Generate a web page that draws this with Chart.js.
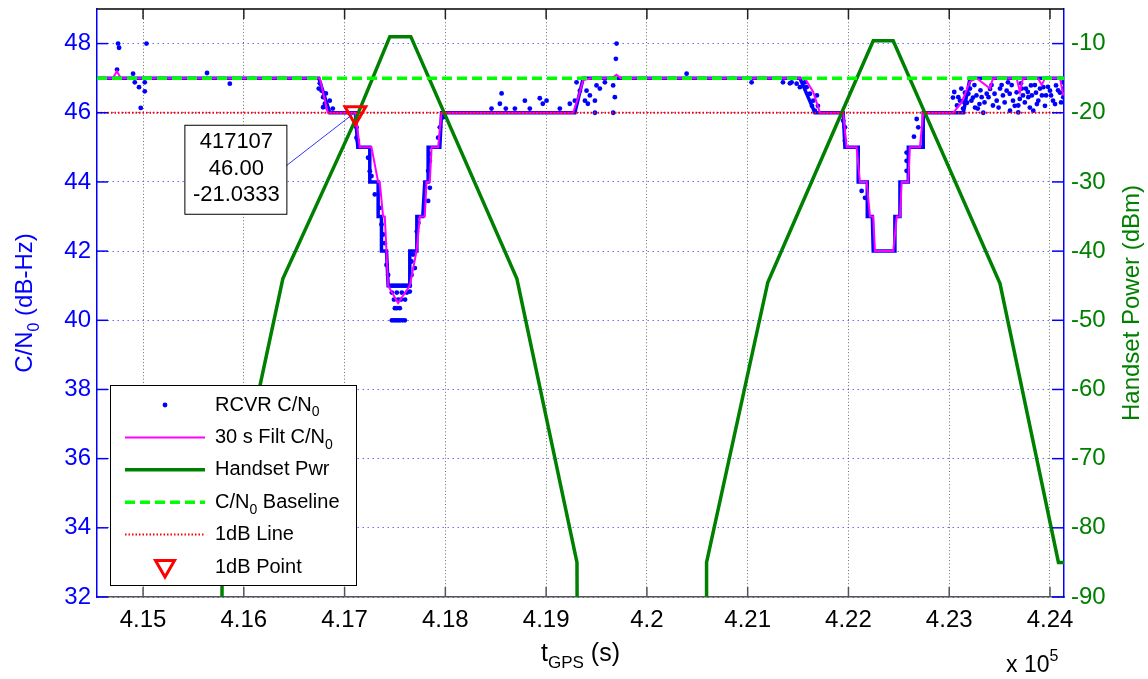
<!DOCTYPE html>
<html>
<head>
<meta charset="utf-8">
<script src="https://cdn.jsdelivr.net/npm/chart.js@4.4.0/dist/chart.umd.min.js"></script>
<style>
  html, body { margin: 0; padding: 0; background: #fff; }
</style>
</head>
<body>
<canvas id="cnChart" width="1148" height="679"></canvas>
<script>
const FONT = "'Liberation Sans', Arial, sans-serif";

// axis limits and ticks
const tMin = 414543, tMax = 424139;
const xTicks = [415000, 416000, 417000, 418000, 419000, 420000, 421000, 422000, 423000, 424000];
const cnTicks = [32, 34, 36, 38, 40, 42, 44, 46, 48];
const pwrTicks = [-90, -80, -70, -60, -50, -40, -30, -20, -10];

// receiver C/N0 - plateaus where the samples sit on one level
const plateauStart = [414543, 416853, 417131, 417250, 417333, 417366, 417432, 417647, 417717, 417796, 417829, 417962,
  419368, 421667, 421965, 422097, 422187, 422246, 422461, 422511, 422594, 422742, 423206];
const plateauEnd = [416744, 417107, 417250, 417333, 417366, 417416, 417647, 417714, 417776, 417829, 417945, 419285,
  421518, 421948, 422097, 422187, 422237, 422461, 422511, 422594, 422742, 423140, 424139];
const plateauC = [47, 46, 45, 44, 43, 42, 41, 42, 43, 44, 45, 46,
  47, 46, 45, 44, 43, 42, 43, 44, 45, 46, 47];

// receiver C/N0 - scattered samples off the plateaus
const rcvrT = [414752, 414762, 415034, 414742, 414901, 414918, 414960, 415017, 415017, 414977, 415635, 415861,
  416754, 416771, 416787, 416804, 416787, 416833, 416853, 416883, 416744, 416814,
  417118, 417118, 417131, 417233, 417250, 417267, 417300, 417349, 417366, 417382, 417399, 417416, 417432,
  417449, 417499, 417548, 417598, 417647, 417474, 417524, 417574, 417623,
  417469, 417518, 417568, 417618, 417490, 417530, 417560, 417600, 417499, 417518, 417548,
  417469, 417490, 417510, 417530, 417550, 417575, 417598,
  417647, 417664, 417664, 417680, 417697, 417717, 417732, 417829, 417846, 417829, 417846, 417846, 417928, 417945, 417978,
  418458, 418541, 418558, 418600, 418690, 418789, 418838, 418937, 418967, 419004, 419136, 419235, 419285, 419302,
  419335, 419385, 419401, 419414, 419434, 419484, 419484, 419500, 419533, 419583, 419665, 419665, 419682, 419692, 419699,
  420394, 421039,
  421350, 421419, 421486, 421518, 421585, 421568, 421618, 421651, 421667, 421638, 421687, 421697, 421436,
  421948, 421965, 421965, 422131, 422164, 422577, 422577, 422577, 422677, 422693, 422650,
  423037, 423077, 423107, 423137, 423156, 423176, 423206, 423236, 423256, 423283, 423322, 423338, 423372, 423405,
  423434, 423471, 423504, 423533, 423570, 423583, 423603, 423633, 423669, 423685, 423685, 423712, 423732, 423761,
  423785, 423811, 423834, 423861, 423884, 423901, 423934, 423961, 424000, 424030, 424060, 424099, 424132, 424129,
  423050, 423090, 423120, 423150, 423190, 423220, 423250, 423270, 423300, 423310, 423350, 423390, 423420, 423450,
  423490, 423520, 423550, 423600, 423620, 423650, 423700, 423720, 423750, 423780, 423800, 423820, 423850, 423870,
  423920, 423950, 423980, 424010, 424050, 424080, 424110, 424135];
const rcvrC = [48.0, 47.88, 48.0, 47.25, 47.13, 46.88, 46.74, 46.62, 46.88, 46.14, 47.15, 46.84,
  46.85, 46.64, 46.45, 46.26, 46.16, 46.12, 46.35, 46.12, 46.70, 46.56,
  45.58, 45.28, 45.19, 44.70, 44.31, 44.17, 43.64, 43.25, 42.77, 42.48, 42.23, 41.60, 41.31,
  41, 41, 41, 41, 41, 41, 41, 41, 41,
  40.8, 40.8, 40.8, 40.8, 40.6, 40.6, 40.6, 40.6, 40.35, 40.35, 40.35,
  40.0, 40.0, 40.0, 40.0, 40.0, 40.0, 40.0,
  40.83, 41.31, 41.70, 41.90, 41.51, 42.57, 42.81, 43.45, 43.83, 44.32, 44.61, 44.81, 45.28, 45.58, 45.87,
  46.12, 46.26, 46.56, 46.12, 46.12, 46.35, 46.12, 46.42, 46.26, 46.35, 46.12, 46.26, 46.35, 46.88,
  46.64, 46.35, 46.64, 46.26, 46.5, 46.35, 46.0, 46.79, 46.70, 46.88, 46.79, 46.0, 46.45, 47.56, 48.0,
  47.13, 46.88,
  46.88, 46.85, 46.84, 46.74, 46.74, 46.88, 46.55, 46.35, 46.06, 46.2, 46.5, 46.2, 46.88,
  45.77, 45.58, 45.19, 43.74, 43.54, 44.61, 44.85, 44.32, 45.82, 45.58, 45.31,
  46.44, 46.21, 46.35, 46.12, 46.58, 46.29, 46.70, 46.44, 46.15, 46.12, 46.45, 46.0, 46.55, 46.69,
  46.21, 46.35, 46.70, 46.5, 46.64, 46.88, 46.06, 46.35, 46.59, 46.21, 46.01, 46.85, 46.5, 46.70,
  46.45, 46.79, 46.06, 46.58, 46.35, 46.70, 46.74, 46.5, 46.64, 46.35, 46.79, 46.58, 46.45, 46.88,
  46.6, 46.45, 46.7, 46.3, 46.55, 46.35, 46.8, 46.5, 46.25, 46.65, 46.3, 46.45, 46.8, 46.55,
  46.15, 46.8, 46.3, 46.55, 46.8, 46.2, 46.4, 46.7, 46.3, 46.6, 46.15, 46.5, 46.8, 46.25,
  46.5, 46.2, 46.75, 46.5, 46.25, 46.65, 46.3, 46.7];

// 30 s filtered C/N0
const filtT = [414543, 414700, 414740, 414780, 416754, 416833, 417107, 417151, 417267, 417333, 417349, 417382, 417399,
  417432, 417531, 417647, 417714, 417747, 417796, 417813, 417846, 417863, 417928, 417962,
  419268, 419335, 419368, 419451, 419652, 419699, 419742, 421568, 421650, 421684, 421717,
  421948, 421982, 422081, 422114, 422181, 422214, 422246, 422263, 422445, 422479, 422511, 422528, 422593,
  422610, 422709, 422742, 423040, 423123, 423206, 423272, 423405, 423434, 423669, 423702, 423732,
  423881, 423918, 423950, 424099, 424132];
const filtC = [47, 47, 47.2, 47, 47, 46, 46, 45, 45, 44, 44, 43, 43,
  41, 40.5, 41, 42, 43, 43, 44, 44, 45, 45, 46,
  46, 46.6, 46.95, 47, 47, 47.1, 47, 47, 46.6, 46.3, 46,
  46, 45, 45, 44, 44, 43, 43, 42, 42, 43, 43, 44, 44,
  45, 45, 46, 46, 46.3, 46.9, 47, 46.7, 47, 47, 46.6, 47,
  47, 46.8, 47, 47, 46.5];

// handset power (dBm)
const pwrT = [414543, 415780, 415785, 416387, 417107, 417449, 417657, 418710, 419306, 419310,
  420588, 420592, 421200, 421948, 422246, 422444, 422776, 423504, 424084, 424139];
const pwrP = [-100, -100, -85, -44, -21.03, -9, -9, -44, -85, -100,
  -100, -85, -44.5, -19.5, -9.6, -9.6, -20.6, -44.7, -85, -85];

// reference lines and the 1 dB point
const baseT = [tMin, tMax];
const baseC = [47, 47];
const oneDbT = [tMin, tMax];
const oneDbC = [46, 46];
const tipT = [417107];
const tipC = [46.00];
const tipP = [-21.0333];

const pts = (xs, ys) => xs.map((v, i) => ({ x: v, y: ys[i] }));
const plateauPts = plateauC.flatMap((c, i) => [{ x: plateauStart[i], y: c }, { x: plateauEnd[i], y: c }]);

function drawParts(ctx, parts, x, y, size, align) {
  const sizes = parts.map(p => p[1] === 'n' ? size : Math.round(size * 0.68));
  let w = 0;
  parts.forEach((p, i) => { ctx.font = sizes[i] + 'px ' + FONT; w += ctx.measureText(p[0]).width; });
  let cx = align === 'center' ? x - w / 2 : x;
  ctx.textAlign = 'left';
  ctx.textBaseline = 'middle';
  parts.forEach((p, i) => {
    ctx.font = sizes[i] + 'px ' + FONT;
    const dy = p[1] === 'sub' ? size * 0.38 : p[1] === 'sup' ? -size * 0.42 : 0;
    ctx.fillText(p[0], cx, y + dy);
    cx += ctx.measureText(p[0]).width;
  });
}

function drawTri(ctx, cx, cy, r) {
  ctx.beginPath();
  ctx.moveTo(cx, cy + r);
  ctx.lineTo(cx - r * 0.866, cy - r * 0.5);
  ctx.lineTo(cx + r * 0.866, cy - r * 0.5);
  ctx.closePath();
  ctx.stroke();
}

const decor = {
  id: 'decor',
  afterDatasetsDraw(chart) {
    const { ctx, chartArea: a, scales: { x, y, y2 } } = chart;
    ctx.save();
    // inward tick marks and top box line
    ctx.lineWidth = 1.5;
    xTicks.forEach(v => {
      const px = x.getPixelForValue(v);
      ctx.strokeStyle = '#555';
      ctx.beginPath(); ctx.moveTo(px, a.bottom); ctx.lineTo(px, a.bottom - 10); ctx.stroke();
      ctx.strokeStyle = '#222';
      ctx.beginPath(); ctx.moveTo(px, a.top); ctx.lineTo(px, a.top + 10); ctx.stroke();
    });
    ctx.strokeStyle = '#0000ff';
    cnTicks.forEach(v => {
      const py = y.getPixelForValue(v);
      ctx.beginPath(); ctx.moveTo(a.left, py); ctx.lineTo(a.left + 11, py); ctx.stroke();
    });
    pwrTicks.forEach(v => {
      const py = y2.getPixelForValue(v);
      ctx.beginPath(); ctx.moveTo(a.right, py); ctx.lineTo(a.right - 12, py); ctx.stroke();
    });
    ctx.strokeStyle = '#000';
    ctx.beginPath(); ctx.moveTo(a.left, a.top); ctx.lineTo(a.right, a.top); ctx.stroke();

    // data tip for the 1 dB point
    const px = x.getPixelForValue(tipT[0]);
    const py = y.getPixelForValue(tipC[0]);
    const bx = px - 171, by = py + 12, bw = 102, bh = 89;
    ctx.strokeStyle = '#3333ff';
    ctx.lineWidth = 1;
    ctx.beginPath(); ctx.moveTo(bx + bw - 4, by + 44); ctx.lineTo(px - 2, py + 1); ctx.stroke();
    ctx.fillStyle = '#fff';
    ctx.fillRect(bx, by, bw, bh);
    ctx.strokeStyle = '#000';
    ctx.strokeRect(bx + 0.5, by + 0.5, bw, bh);
    ctx.fillStyle = '#000';
    ctx.font = '22px ' + FONT;
    ctx.textAlign = 'center';
    ctx.textBaseline = 'middle';
    [String(tipT[0]), tipC[0].toFixed(2), String(tipP[0])].forEach((s, i) => {
      ctx.fillText(s, bx + bw / 2 + 1, by + 17 + i * 26.7);
    });

    // legend
    const lx = a.left + 13, lw = 246, lh = 200, ly = a.bottom - 12 - lh;
    ctx.fillStyle = '#fff';
    ctx.fillRect(lx, ly, lw, lh);
    ctx.strokeStyle = '#000';
    ctx.lineWidth = 1;
    ctx.strokeRect(lx + 0.5, ly + 0.5, lw, lh);
    const items = chart.data.datasets.filter(d => d.leg).sort((p, q) => p.leg.row - q.leg.row);
    items.forEach((d, i) => {
      const ry = ly + 20 + i * 32.4;
      const s0 = lx + 15, s1 = lx + 95, sm = (s0 + s1) / 2;
      ctx.save();
      if (d.leg.kind === 'dot') {
        ctx.fillStyle = d.pointBackgroundColor;
        ctx.beginPath(); ctx.arc(sm, ry, 2.4, 0, Math.PI * 2); ctx.fill();
      } else if (d.leg.kind === 'tri') {
        ctx.strokeStyle = d.borderColor;
        ctx.lineWidth = d.borderWidth;
        drawTri(ctx, sm, ry - 1, 11);
      } else {
        ctx.strokeStyle = d.borderColor;
        ctx.lineWidth = d.borderWidth;
        ctx.setLineDash(d.borderDash || []);
        ctx.beginPath(); ctx.moveTo(s0, ry); ctx.lineTo(s1, ry); ctx.stroke();
      }
      ctx.restore();
      ctx.fillStyle = '#000';
      drawParts(ctx, d.leg.parts, lx + 105, ry, 20, 'left');
    });
    ctx.restore();
  },
  afterDraw(chart) {
    const { ctx, chartArea: a } = chart;
    const midY = (a.top + a.bottom) / 2;
    ctx.save();
    ctx.fillStyle = '#0000ff';
    ctx.translate(25, midY);
    ctx.rotate(-Math.PI / 2);
    drawParts(ctx, [['C/N', 'n'], ['0', 'sub'], [' (dB-Hz)', 'n']], 0, 0, 24, 'center');
    ctx.restore();

    ctx.save();
    ctx.fillStyle = '#008000';
    ctx.translate(1132, midY);
    ctx.rotate(-Math.PI / 2);
    drawParts(ctx, [['Handset Power (dBm)', 'n']], 0, 0, 24, 'center');
    ctx.restore();

    ctx.save();
    ctx.fillStyle = '#000';
    drawParts(ctx, [['t', 'n'], ['GPS', 'sub'], [' (s)', 'n']], (a.left + a.right) / 2, 654, 25, 'center');
    drawParts(ctx, [['x 10', 'n'], ['5', 'sup']], 1006, 666, 23, 'left');
    ctx.restore();
  }
};

const noPad = s => { s.paddingTop = 0; s.paddingBottom = 0; s.paddingLeft = 0; s.paddingRight = 0; };

new Chart(document.getElementById('cnChart'), {
  type: 'scatter',
  data: {
    datasets: [
      {
        label: '1dB Point', data: pts(tipT, tipC), yAxisID: 'y', order: 0,
        pointStyle: 'triangle', rotation: 180, pointRadius: 12, borderWidth: 3,
        borderColor: '#ff0000', backgroundColor: 'rgba(0,0,0,0)',
        leg: { row: 5, kind: 'tri', parts: [['1dB Point', 'n']] }
      },
      {
        label: '1dB Line', data: pts(oneDbT, oneDbC), yAxisID: 'y', order: 1,
        showLine: true, pointRadius: 0, borderColor: '#ff0000', borderWidth: 2, borderDash: [1.5, 2],
        leg: { row: 4, kind: 'line', parts: [['1dB Line', 'n']] }
      },
      {
        label: 'C/N0 Baseline', data: pts(baseT, baseC), yAxisID: 'y', order: 2,
        showLine: true, pointRadius: 0, borderColor: '#00ff00', borderWidth: 3.5, borderDash: [10, 5],
        leg: { row: 3, kind: 'line', parts: [['C/N', 'n'], ['0', 'sub'], [' Baseline', 'n']] }
      },
      {
        label: 'Handset Pwr', data: pts(pwrT, pwrP), yAxisID: 'y2', order: 3,
        showLine: true, pointRadius: 0, borderColor: '#008000', borderWidth: 3.5,
        leg: { row: 2, kind: 'line', parts: [['Handset Pwr', 'n']] }
      },
      {
        label: '30 s Filt C/N0', data: pts(filtT, filtC), yAxisID: 'y', order: 4,
        showLine: true, pointRadius: 0, borderColor: '#ff00ff', borderWidth: 2,
        leg: { row: 1, kind: 'line', parts: [['30 s Filt C/N', 'n'], ['0', 'sub']] }
      },
      {
        label: 'RCVR C/N0', data: pts(rcvrT, rcvrC), yAxisID: 'y', order: 5,
        pointRadius: 2.4, pointBackgroundColor: '#0000ff', pointBorderWidth: 0, borderColor: '#0000ff',
        leg: { row: 0, kind: 'dot', parts: [['RCVR C/N', 'n'], ['0', 'sub']] }
      },
      {
        label: 'RCVR plateaus', data: plateauPts, yAxisID: 'y', order: 6,
        showLine: true, pointRadius: 0, borderColor: '#0000ff', borderWidth: 3.5
      }
    ]
  },
  options: {
    responsive: false,
    animation: false,
    events: [],
    layout: { autoPadding: false, padding: { top: 9, left: 0, right: 0, bottom: 0 } },
    plugins: { legend: { display: false }, tooltip: { enabled: false } },
    scales: {
      x: {
        type: 'linear', min: tMin, max: tMax,
        afterBuildTicks: s => { s.ticks = xTicks.map(v => ({ value: v })); },
        afterFit: s => { s.height = 82; noPad(s); },
        ticks: {
          callback: v => String(+(v / 1e5).toFixed(2)),
          color: '#000', font: { family: FONT, size: 24 }, padding: 9, maxRotation: 0, autoSkip: false
        },
        grid: { color: 'rgba(60,60,60,0.75)', lineWidth: 1, drawTicks: false },
        border: { color: '#555', width: 1.5, dash: [1, 2.3] }
      },
      y: {
        position: 'left', min: 32, max: 49,
        afterBuildTicks: s => { s.ticks = cnTicks.map(v => ({ value: v })); },
        afterFit: s => { s.width = 97; noPad(s); },
        ticks: { color: '#0000ff', font: { family: FONT, size: 24, lineHeight: 0.7 }, padding: 6 },
        grid: { color: 'rgba(70,70,255,0.8)', lineWidth: 1, drawTicks: false },
        border: { color: '#0000ff', width: 1.5, dash: [1.5, 3.5] }
      },
      y2: {
        position: 'right', min: -90, max: -5,
        afterBuildTicks: s => { s.ticks = pwrTicks.map(v => ({ value: v })); },
        afterFit: s => { s.width = 84; noPad(s); },
        ticks: { color: '#008000', font: { family: FONT, size: 24, lineHeight: 0.7 }, padding: 7 },
        grid: { drawOnChartArea: false, drawTicks: false },
        border: { color: '#0000ff', width: 1.5 }
      }
    }
  },
  plugins: [decor]
});
</script>
</body>
</html>
